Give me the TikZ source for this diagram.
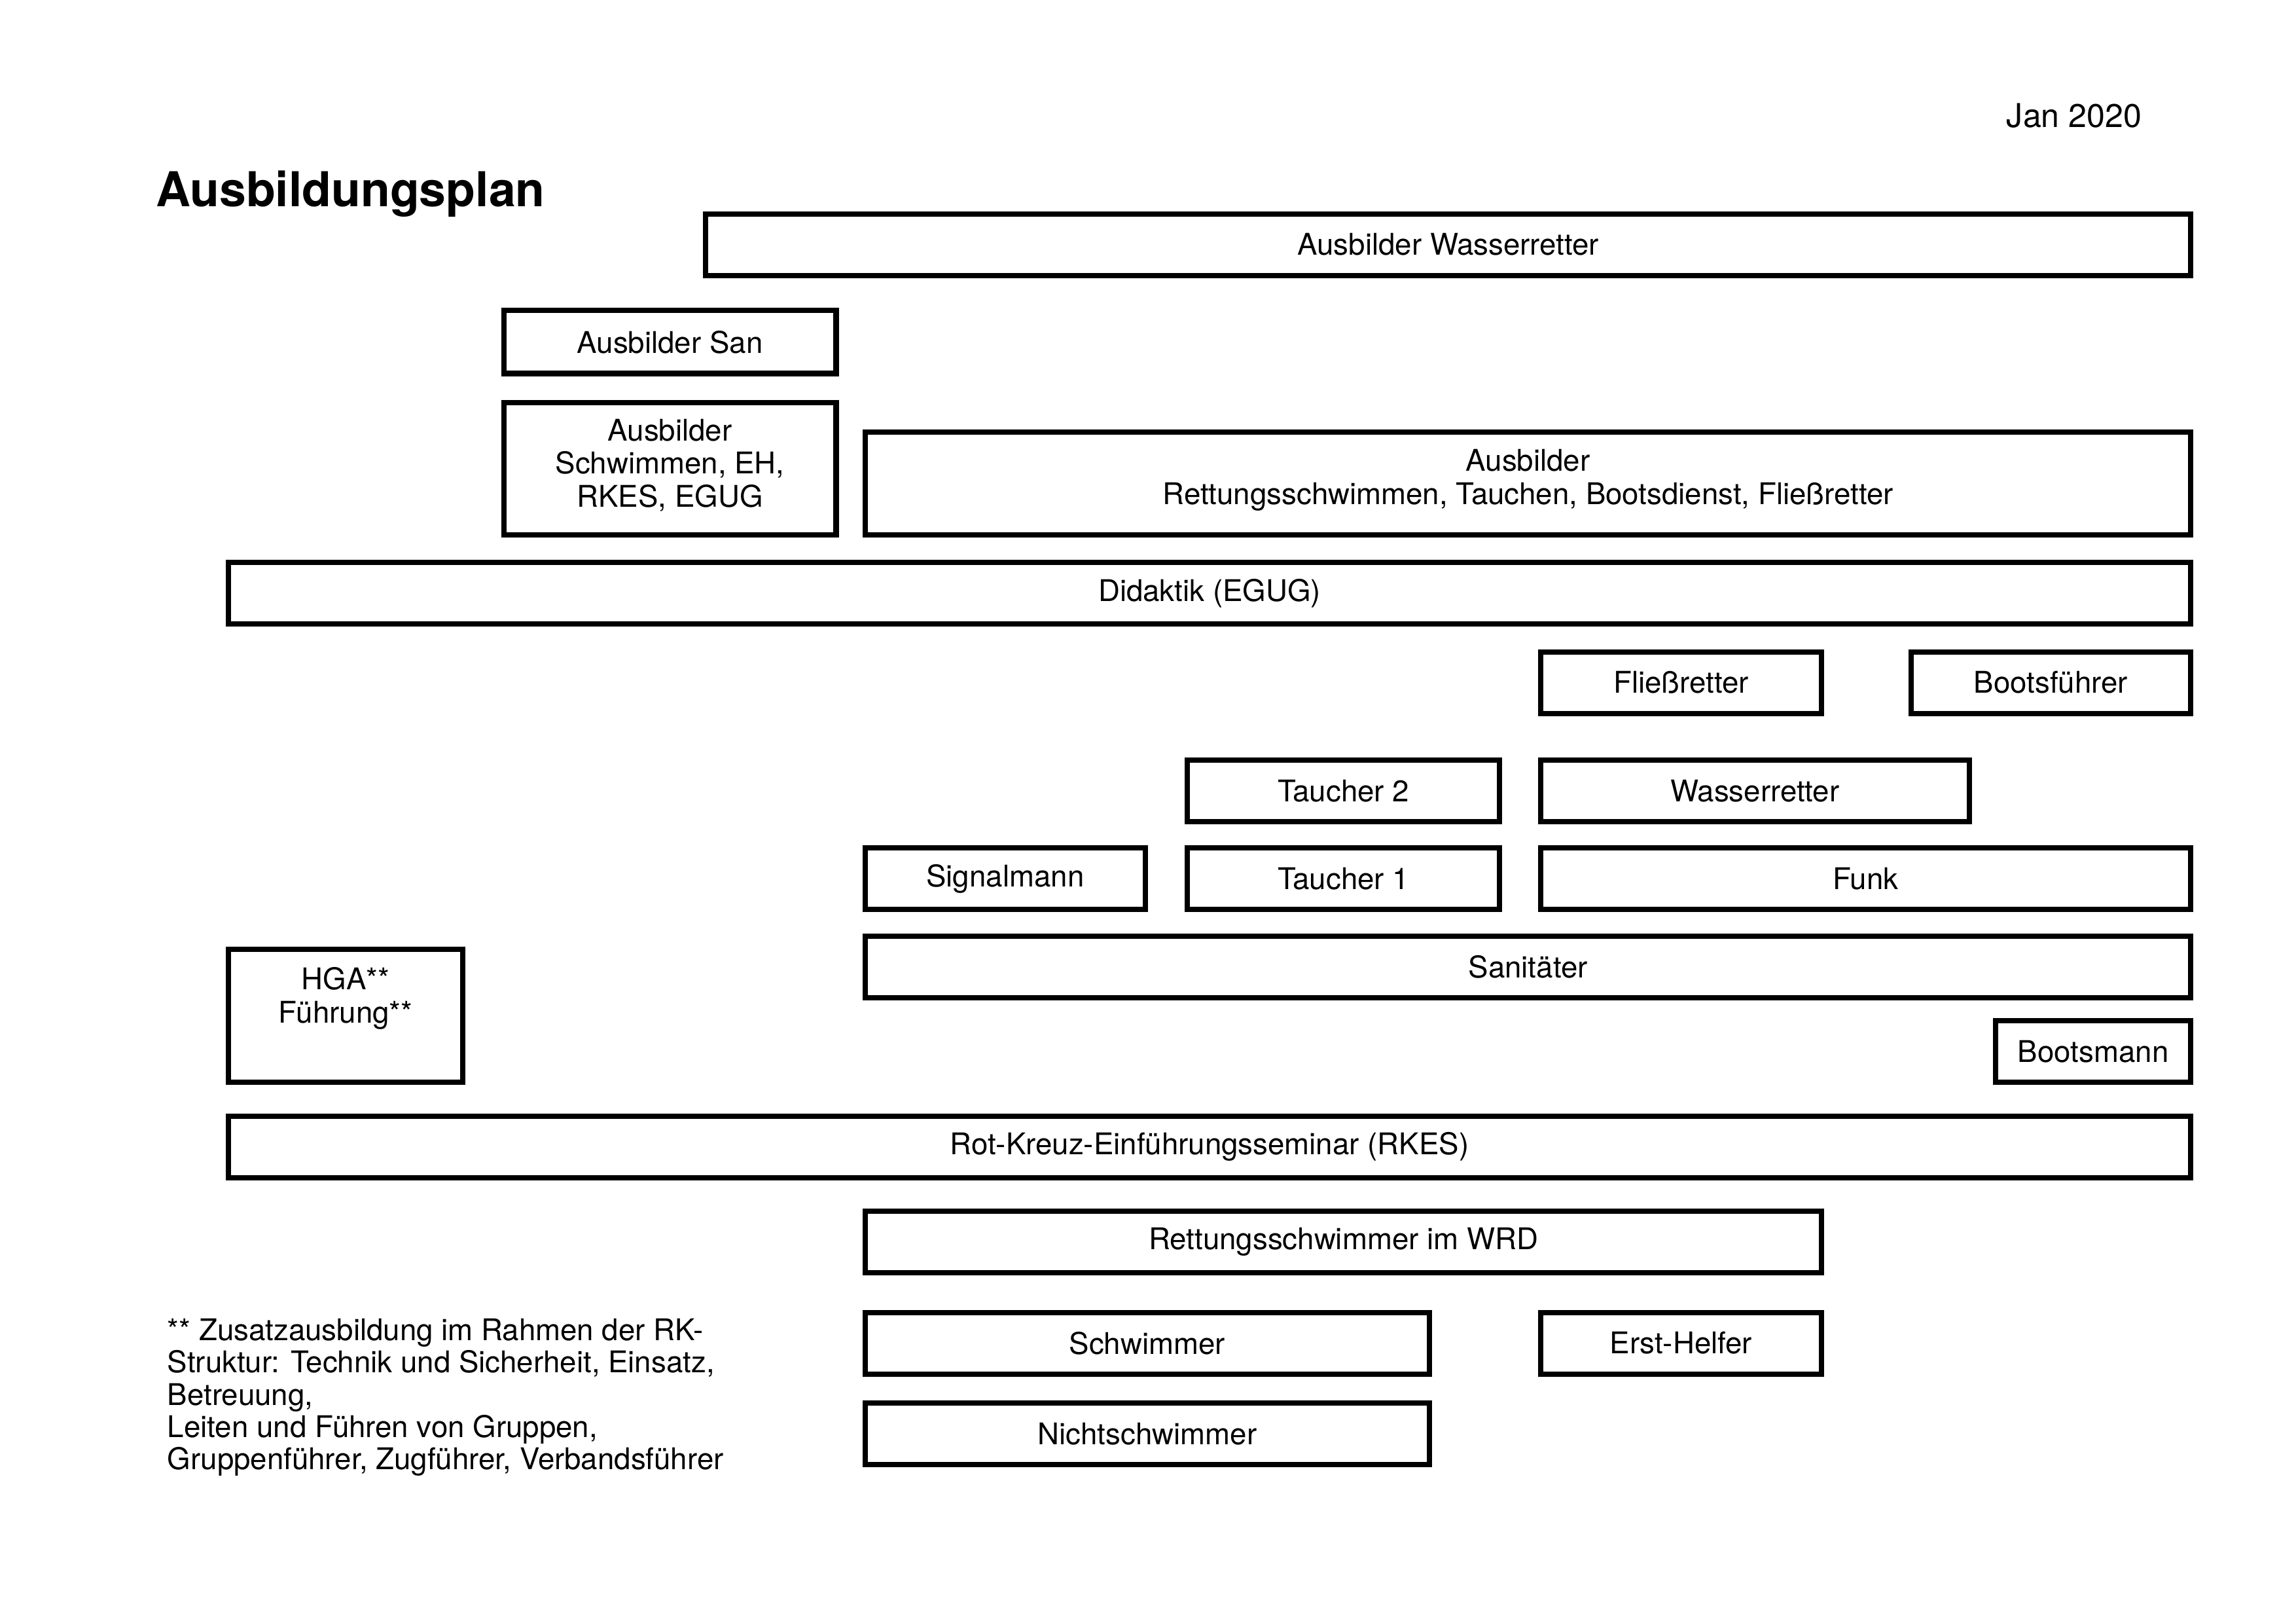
\documentclass[tikz,border=0pt]{standalone}
\usepackage{fontspec}
\setmainfont{TeX Gyre Heros}
\newcommand\mybx[6]{\node[boxst, minimum width={(#4-#2)*0.5pt}, minimum height={(#5-#3)*0.5pt}] (#1) at ({(#2+#4)/2},{(#3+#5)/2}) {#6};}
\begin{document}
\begin{tikzpicture}[x=0.5pt,y=-0.5pt,
  boxst/.style={draw, line width=1.8pt, rectangle, inner sep=2pt, align=center, font=\fontsize{10.2pt}{11.3pt}\selectfont},
  plaintext/.style={inner sep=0pt, align=left, font=\fontsize{10.2pt}{11pt}\selectfont}]
\path[use as bounding box, fill=white] (0,0) rectangle (1568,1108);

\node[inner sep=0pt, anchor=base west, font=\fontsize{16.4pt}{18pt}\selectfont\bfseries] (title) at (106,141) {Ausbildungsplan};
\node[inner sep=0pt, anchor=base west, font=\fontsize{11.2pt}{13pt}\selectfont] (date) at (1370,87) {Jan 2020};

\mybx{awr}{482}{146}{1496}{188}{Ausbilder Wasserretter}
\mybx{asan}{344}{212}{571}{255}{Ausbilder San}
\mybx{aschw}{344}{275}{571}{365}{Ausbilder\\Schwimmen, EH,\\RKES, EGUG\rule[-4pt]{0pt}{4pt}}
\mybx{arett}{591}{295}{1496}{365}{Ausbilder\\Rettungsschwimmen, Tauchen, Bootsdienst, Fließretter\rule[-4.5pt]{0pt}{4.5pt}}
\mybx{didaktik}{156}{384}{1496}{426}{Didaktik (EGUG)}
\mybx{fliess}{1052}{445}{1244}{487}{Fließretter}
\mybx{bootsf}{1305}{445}{1496}{487}{Bootsführer}
\mybx{taucher2}{811}{519}{1024}{561}{Taucher 2}
\mybx{wasserr}{1052}{519}{1345}{561}{Wasserretter}
\mybx{signal}{591}{579}{782}{621}{Signalmann}
\mybx{taucher1}{811}{579}{1024}{621}{Taucher 1}
\mybx{funk}{1052}{579}{1496}{621}{Funk}
\mybx{sani}{591}{639}{1496}{681}{Sanitäter}
\mybx{hga}{156}{648}{316}{739}{HGA**\\Führung**\rule[-14pt]{0pt}{14pt}}
\mybx{bootsm}{1363}{697}{1496}{739}{Bootsmann}
\mybx{rkes}{156}{762}{1496}{804}{Rot-Kreuz-Einführungsseminar (RKES)}
\mybx{rsw}{591}{827}{1244}{869}{Rettungsschwimmer im WRD}
\mybx{schw}{591}{896}{976}{938}{Schwimmer}
\mybx{eh}{1052}{896}{1244}{938}{Erst-Helfer}
\mybx{nichtschw}{591}{958}{976}{1000}{Nichtschwimmer}

\node[plaintext, anchor=north west] (note) at (114,900) {** Zusatzausbildung im Rahmen der RK-\\Struktur: Technik und Sicherheit, Einsatz,\\Betreuung,\\Leiten und Führen von Gruppen,\\Gruppenführer, Zugführer, Verbandsführer};
\end{tikzpicture}
\end{document}
